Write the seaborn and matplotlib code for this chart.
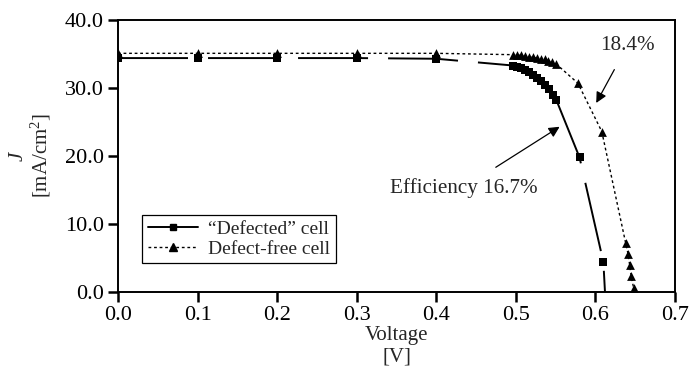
import matplotlib
matplotlib.use("Agg")
import matplotlib.pyplot as plt
from matplotlib.lines import Line2D
import seaborn as sns

# "Defected" cell (squares)
defected_v = [0.0, 0.1, 0.2, 0.3, 0.4, 0.497, 0.502, 0.507, 0.512, 0.517, 0.522, 0.527,
              0.532, 0.537, 0.542, 0.547, 0.551, 0.580, 0.610]
defected_j = [34.4, 34.4, 34.4, 34.4, 34.3, 33.3, 33.1, 32.9, 32.6, 32.3, 31.9, 31.5,
              31.0, 30.4, 29.8, 29.0, 28.2, 19.8, 4.4]
defected_voc = 0.612

# Defect-free cell (triangles)
free_v = [0.0, 0.1, 0.2, 0.3, 0.4, 0.496, 0.501, 0.506, 0.511, 0.516, 0.521, 0.526,
          0.531, 0.536, 0.541, 0.546, 0.551, 0.578, 0.608, 0.638, 0.641, 0.643, 0.645, 0.648]
free_j = [35.1, 35.1, 35.1, 35.1, 35.1, 34.9, 34.85, 34.8, 34.7, 34.6, 34.5, 34.4,
          34.3, 34.2, 34.0, 33.8, 33.5, 30.7, 23.6, 7.2, 5.6, 4.0, 2.3, 0.6]

x_ticks = [0.0, 0.1, 0.2, 0.3, 0.4, 0.5, 0.6, 0.7]
y_ticks = [0.0, 10.0, 20.0, 30.0, 40.0]

sns.set_style("ticks")
plt.rcParams["font.family"] = ["Liberation Serif", "DejaVu Serif"]
plt.rcParams["mathtext.fontset"] = "custom"
plt.rcParams["mathtext.rm"] = "Liberation Serif"
plt.rcParams["mathtext.it"] = "Liberation Serif:italic"

fig = plt.figure(figsize=(6.9, 3.81), dpi=100)
ax = fig.add_axes([118 / 690, 1 - 292 / 381, 557 / 690, 272 / 381])

# lines
sns.lineplot(x=defected_v + [defected_voc], y=defected_j + [0.0], ax=ax, color="black",
             lw=1.4, linestyle=(0, (36, 10.3)), sort=False, estimator=None)
sns.lineplot(x=free_v, y=free_j, ax=ax, color="black", lw=1.0,
             linestyle=(0, (2, 2)), sort=False, estimator=None)
# markers
sns.scatterplot(x=defected_v, y=defected_j, ax=ax, marker="s", color="black",
                s=34, linewidth=0, zorder=3)
sns.scatterplot(x=free_v, y=free_j, ax=ax, marker="^", color="black",
                s=40, linewidth=0, zorder=3)

ax.set_xlim(0, 0.7)
ax.set_ylim(0, 40)
ax.set_xticks(x_ticks)
ax.set_xticklabels([f"{t:.1f}" for t in x_ticks])
ax.set_yticks(y_ticks)
ax.set_yticklabels([f"{t:.1f}" for t in y_ticks])
ax.tick_params(direction="out", length=7, width=1.8, labelsize=16, color="black",
               labelcolor="black", pad=3)
for s in ax.spines.values():
    s.set_linewidth(1.4)
    s.set_color("black")

ax.set_xlabel("Voltage\n[V]", fontsize=15, labelpad=1, linespacing=1.15)
ax.set_ylabel("$J$\n[mA/cm$^2$]", fontsize=15, labelpad=9, linespacing=1.0)

# annotations
ax.annotate("18.4%", xy=(0.601, 27.8), xytext=(0.64, 36.2), fontsize=15.2,
            ha="center", va="center",
            arrowprops=dict(arrowstyle="-|>", color="black", lw=0.9,
                            mutation_scale=16, shrinkA=9, shrinkB=0))
ax.annotate("Efficiency 16.7%", xy=(0.555, 24.3), xytext=(0.435, 15.3), fontsize=15.2,
            ha="center", va="center",
            arrowprops=dict(arrowstyle="-|>", color="black", lw=0.9,
                            mutation_scale=16, shrinkA=10, shrinkB=0,
                            relpos=(0.6, 1.0)))

handles = [
    Line2D([], [], color="black", lw=1.4, marker="s", markersize=5),
    Line2D([], [], color="black", lw=1.0, linestyle=(0, (2, 2)), marker="^", markersize=6),
]
leg = ax.legend(handles, ["\u201cDefected\u201d cell", "Defect-free cell"],
                loc="lower left", bbox_to_anchor=(0.043, 0.105), fontsize=14,
                frameon=True, fancybox=False, edgecolor="black", framealpha=1,
                handlelength=2.6, handletextpad=0.5, borderpad=0.3, labelspacing=0.1,
                borderaxespad=0)
leg.get_frame().set_linewidth(0.9)

fig.savefig("out.png", dpi=100)
